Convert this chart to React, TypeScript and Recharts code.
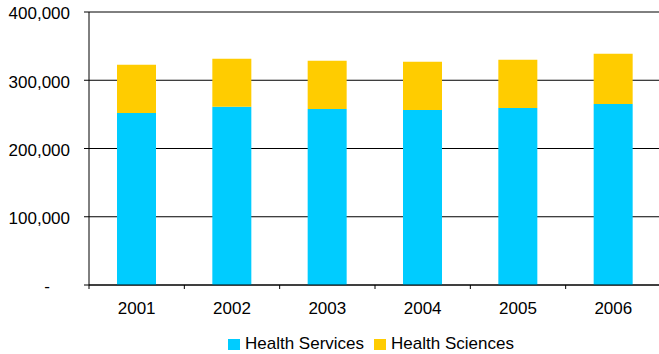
import { Bar, BarChart, CartesianGrid, Legend, XAxis, YAxis } from "recharts";

const years = ["2001", "2002", "2003", "2004", "2005", "2006"];
const healthServices = [252000, 261000, 258000, 256500, 259500, 265300];
const healthSciences = [70600, 70400, 70500, 70500, 70500, 73500];
const yTicks = [0, 100000, 200000, 300000, 400000];

const FONT = "'Liberation Sans', Arial, sans-serif";
const CYAN = "#00CCFF";
const YELLOW = "#FFCC00";

const data = years.map((year, i) => ({
  year,
  services: healthServices[i],
  sciences: healthSciences[i],
}));

function YTick({ x, y, payload }: any) {
  const zero = payload.value === 0;
  return (
    <text x={zero ? x - 20 : x} y={y} dy="0.44em" textAnchor="end" fontSize={17} fill="#000" fontFamily={FONT}>
      {zero ? "-" : Number(payload.value).toLocaleString("en-US")}
    </text>
  );
}

// Excel puts the category ticks between the bars, so draw them at the band edges.
function XTick({ x, y, payload, index, visibleTicksCount }: any) {
  const off = payload.offset ?? 0;
  const last = index === visibleTicksCount - 1;
  return (
    <g>
      <line x1={x - off} x2={x - off} y1={y - 17} y2={y - 13} stroke="#000" />
      {last && <line x1={x + off} x2={x + off} y1={y - 17} y2={y - 13} stroke="#000" />}
      <text x={x} y={y} dy="0.71em" textAnchor="middle" fontSize={17} fill="#000" fontFamily={FONT}>
        {payload.value}
      </text>
    </g>
  );
}

function LegendContent() {
  const items = [
    { name: "Health Services", color: CYAN },
    { name: "Health Sciences", color: YELLOW },
  ];
  return (
    <div style={{ display: "flex", alignItems: "center", fontFamily: FONT, fontSize: 17, lineHeight: "20px", color: "#000" }}>
      {items.map((it, i) => (
        <div key={it.name} style={{ display: "flex", alignItems: "center", marginLeft: i ? 10 : 0 }}>
          <span style={{ width: 12, height: 11, background: it.color, marginRight: 5, display: "inline-block" }} />
          <span>{it.name}</span>
        </div>
      ))}
    </div>
  );
}

export default function App() {
  return (
    <div style={{ position: "absolute", left: 0, top: 0, width: 659, height: 354, overflow: "hidden", background: "#fff" }}>
      <BarChart width={662} height={354} data={data} margin={{ top: 12, right: 1, bottom: 0, left: 0 }}>
        <CartesianGrid horizontal vertical={false} stroke="#000" strokeOpacity={1} />
        <XAxis
          dataKey="year"
          height={69}
          tickLine={false}
          tickSize={0}
          tickMargin={17}
          axisLine={{ stroke: "#000" }}
          tick={<XTick />}
          interval={0}
        />
        <YAxis
          width={89}
          domain={[0, 400000]}
          ticks={yTicks}
          tickSize={5}
          tickMargin={14}
          tickLine={{ stroke: "#000" }}
          axisLine={{ stroke: "#000" }}
          tick={<YTick />}
          interval={0}
        />
        <Legend
          verticalAlign="middle"
          layout="horizontal"
          content={<LegendContent />}
          wrapperStyle={{ top: 334, left: 228, width: "auto" }}
        />
        <Bar dataKey="services" name="Health Services" stackId="a" fill={CYAN} barSize={39} isAnimationActive={false} />
        <Bar dataKey="sciences" name="Health Sciences" stackId="a" fill={YELLOW} barSize={39} isAnimationActive={false} />
      </BarChart>
    </div>
  );
}
